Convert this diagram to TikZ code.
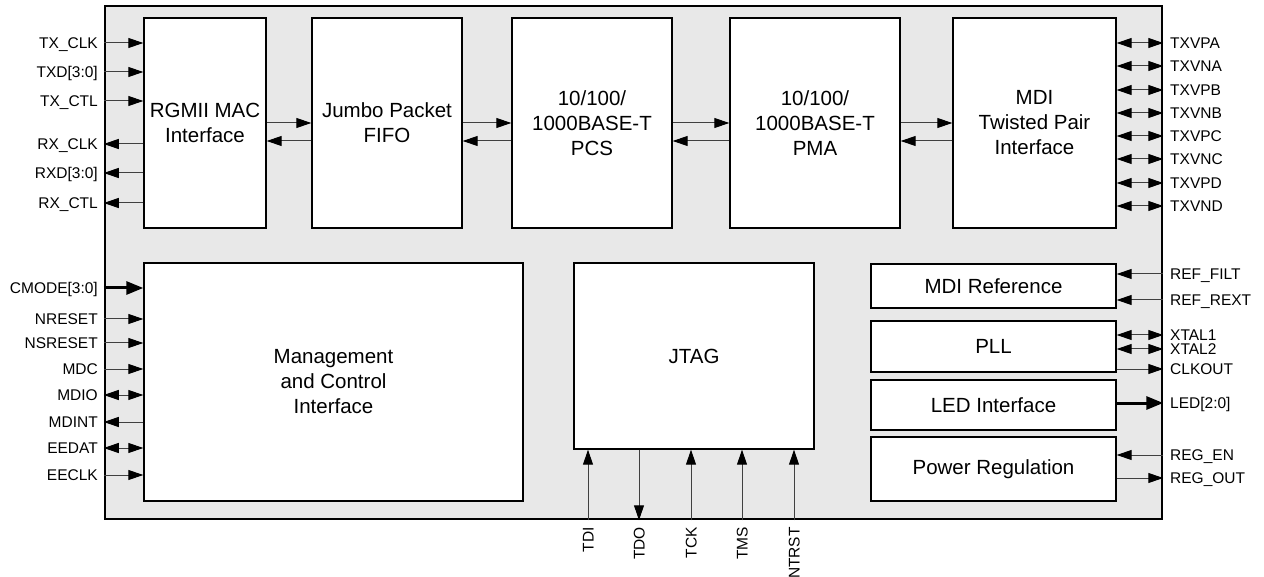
\documentclass[tikz,border=0pt]{standalone}
\usepackage{fontspec}
\setmainfont{Liberation Sans}
\usetikzlibrary{arrows.meta}
\newcommand{\pinfont}{\fontsize{15.5}{17}\selectfont}
\newcommand{\blockfont}{\fontsize{20.5}{25}\selectfont}
\tikzset{
  >={Triangle[length=15pt,width=10pt,color=black]},
  sig/.style={->, draw=black!75, line width=1pt},
  bidir/.style={<->, draw=black!75, line width=1pt},
  bus/.style={-{Triangle[length=17pt,width=13pt]}, draw=black, line width=3pt},
}

\begin{document}
\begin{tikzpicture}[
  x=1pt, y=-1pt,
  % --- Styles ---
  chip/.style={draw=black, line width=2.5pt, fill=black!9, inner sep=0pt},
  block/.style={draw=black, line width=1.4pt, fill=white, align=center,
    inner sep=0pt, font=\blockfont},
  datablock/.style={block, minimum height=210pt},
  sidebox/.style={block, minimum width=245pt},
  pinl/.style={anchor=east, inner sep=0pt, text height=11pt, text depth=0pt, font=\pinfont},
  pinr/.style={anchor=west, inner sep=0pt, text height=11pt, text depth=0pt, font=\pinfont},
  pinb/.style={anchor=east, rotate=90, inner sep=0pt, text height=11pt, text depth=0pt, font=\pinfont}
]
\useasboundingbox (0,0) rectangle (1264,577);

% ---- Chip outline ----
\node[chip, minimum width=1057pt, minimum height=513pt] (chip) at (633.5,262.5) {};

% ---- Data path ----
\node[datablock, minimum width=122pt] (rgmii) at (205,123) {RGMII MAC\\Interface};
\node[datablock, minimum width=150pt] (fifo)  at (387,123) {Jumbo Packet\\FIFO};
\node[datablock, minimum width=160pt] (pcs)   at (592,123) {10/100/\\1000BASE-T\\PCS};
\node[datablock, minimum width=170pt] (pma)   at (815,123) {10/100/\\1000BASE-T\\PMA};
\node[datablock, minimum width=163pt] (mdi)   at (1034.5,123) {MDI\\Twisted Pair\\Interface};

% ---- Lower blocks ----
\node[block, minimum width=379pt, minimum height=238pt] (mgmt) at (333.5,382) {Management\\and Control\\Interface};
\node[block, minimum width=240pt, minimum height=186pt] (jtag) at (694,356) {JTAG};
\node[sidebox, minimum height=44pt] (mdiref) at (993.5,286)   {MDI Reference};
\node[sidebox, minimum height=51pt] (pll)    at (993.5,346.5) {PLL};
\node[sidebox, minimum height=50pt] (led)    at (993.5,405)   {LED Interface};
\node[sidebox, minimum height=64pt] (pwr)    at (993.5,469)   {Power Regulation};

% ---- Data path flow ----
\draw[sig] (rgmii.east) -- (fifo.west);
\draw[sig] ([yshift=-18pt]fifo.west) -- ([yshift=-18pt]rgmii.east);
\draw[sig] (fifo.east) -- (pcs.west);
\draw[sig] ([yshift=-18pt]pcs.west) -- ([yshift=-18pt]fifo.east);
\draw[sig] (pcs.east) -- (pma.west);
\draw[sig] ([yshift=-18pt]pma.west) -- ([yshift=-18pt]pcs.east);
\draw[sig] (pma.east) -- (mdi.west);
\draw[sig] ([yshift=-18pt]mdi.west) -- ([yshift=-18pt]pma.east);

% ---- RGMII pins ----
\node[pinl] (txclk) at (98,43)  {TX\_CLK};
\node[pinl] (txd)   at (98,72)  {TXD[3:0]};
\node[pinl] (txctl) at (98,101) {TX\_CTL};
\node[pinl] (rxclk) at (98,144) {RX\_CLK};
\node[pinl] (rxd)   at (98,173) {RXD[3:0]};
\node[pinl] (rxctl) at (98,203) {RX\_CTL};
\draw[sig] (chip.west |- txclk) -- (rgmii.west |- txclk);
\draw[sig] (chip.west |- txd)   -- (rgmii.west |- txd);
\draw[sig] (chip.west |- txctl) -- (rgmii.west |- txctl);
\draw[sig] (rgmii.west |- rxclk) -- (chip.west |- rxclk);
\draw[sig] (rgmii.west |- rxd)   -- (chip.west |- rxd);
\draw[sig] (rgmii.west |- rxctl) -- (chip.west |- rxctl);

% ---- Management pins ----
\node[pinl] (cmode)   at (98,288) {CMODE[3:0]};
\node[pinl] (nreset)  at (98,319) {NRESET};
\node[pinl] (nsreset) at (98,343) {NSRESET};
\node[pinl] (mdc)     at (98,369) {MDC};
\node[pinl] (mdio)    at (98,395) {MDIO};
\node[pinl] (mdint)   at (98,422) {MDINT};
\node[pinl] (eedat)   at (98,448) {EEDAT};
\node[pinl] (eeclk)   at (98,475) {EECLK};
\draw[bus]   (chip.west |- cmode)   -- (mgmt.west |- cmode);
\draw[sig]   (chip.west |- nreset)  -- (mgmt.west |- nreset);
\draw[sig]   (chip.west |- nsreset) -- (mgmt.west |- nsreset);
\draw[sig]   (chip.west |- mdc)     -- (mgmt.west |- mdc);
\draw[bidir] (chip.west |- mdio)    -- (mgmt.west |- mdio);
\draw[sig]   (mgmt.west |- mdint)   -- (chip.west |- mdint);
\draw[bidir] (chip.west |- eedat)   -- (mgmt.west |- eedat);
\draw[sig]   (chip.west |- eeclk)   -- (mgmt.west |- eeclk);

% ---- Twisted pair pins ----
\node[pinr] (txvpa) at (1170,43)  {TXVPA};
\node[pinr] (txvna) at (1170,66)  {TXVNA};
\node[pinr] (txvpb) at (1170,90)  {TXVPB};
\node[pinr] (txvnb) at (1170,113) {TXVNB};
\node[pinr] (txvpc) at (1170,136) {TXVPC};
\node[pinr] (txvnc) at (1170,159) {TXVNC};
\node[pinr] (txvpd) at (1170,183) {TXVPD};
\node[pinr] (txvnd) at (1170,206) {TXVND};
\draw[bidir] (mdi.east |- txvpa) -- (chip.east |- txvpa);
\draw[bidir] (mdi.east |- txvna) -- (chip.east |- txvna);
\draw[bidir] (mdi.east |- txvpb) -- (chip.east |- txvpb);
\draw[bidir] (mdi.east |- txvnb) -- (chip.east |- txvnb);
\draw[bidir] (mdi.east |- txvpc) -- (chip.east |- txvpc);
\draw[bidir] (mdi.east |- txvnc) -- (chip.east |- txvnc);
\draw[bidir] (mdi.east |- txvpd) -- (chip.east |- txvpd);
\draw[bidir] (mdi.east |- txvnd) -- (chip.east |- txvnd);

% ---- Reference, clock, LED and power pins ----
\node[pinr] (reffilt) at (1170,274) {REF\_FILT};
\node[pinr] (refrext) at (1170,300) {REF\_REXT};
\node[pinr] (xtal1)   at (1170,335) {XTAL1};
\node[pinr] (xtal2)   at (1170,349) {XTAL2};
\node[pinr] (clkout)  at (1170,369) {CLKOUT};
\node[pinr] (ledpin)  at (1170,403) {LED[2:0]};
\node[pinr] (regen)   at (1170,455) {REG\_EN};
\node[pinr] (regout)  at (1170,478) {REG\_OUT};
\draw[sig]   (chip.east |- reffilt) -- (mdiref.east |- reffilt);
\draw[sig]   (chip.east |- refrext) -- (mdiref.east |- refrext);
\draw[bidir] (pll.east |- xtal1)    -- (chip.east |- xtal1);
\draw[bidir] (pll.east |- xtal2)    -- (chip.east |- xtal2);
\draw[sig]   (pll.east |- clkout)   -- (chip.east |- clkout);
\draw[bus]   (led.east |- ledpin)   -- (chip.east |- ledpin);
\draw[sig]   (chip.east |- regen)   -- (pwr.east |- regen);
\draw[sig]   (pwr.east |- regout)   -- (chip.east |- regout);

% ---- JTAG pins ----
\node[pinb] (tdi)   at (588,527) {TDI};
\node[pinb] (tdo)   at (639,527) {TDO};
\node[pinb] (tck)   at (691,527) {TCK};
\node[pinb] (tms)   at (742,527) {TMS};
\node[pinb] (ntrst) at (794,527) {NTRST};
\draw[sig] (chip.south -| tdi)   -- (jtag.south -| tdi);
\draw[sig] (jtag.south -| tdo)   -- (chip.south -| tdo);
\draw[sig] (chip.south -| tck)   -- (jtag.south -| tck);
\draw[sig] (chip.south -| tms)   -- (jtag.south -| tms);
\draw[sig] (chip.south -| ntrst) -- (jtag.south -| ntrst);

\end{tikzpicture}
\end{document}
